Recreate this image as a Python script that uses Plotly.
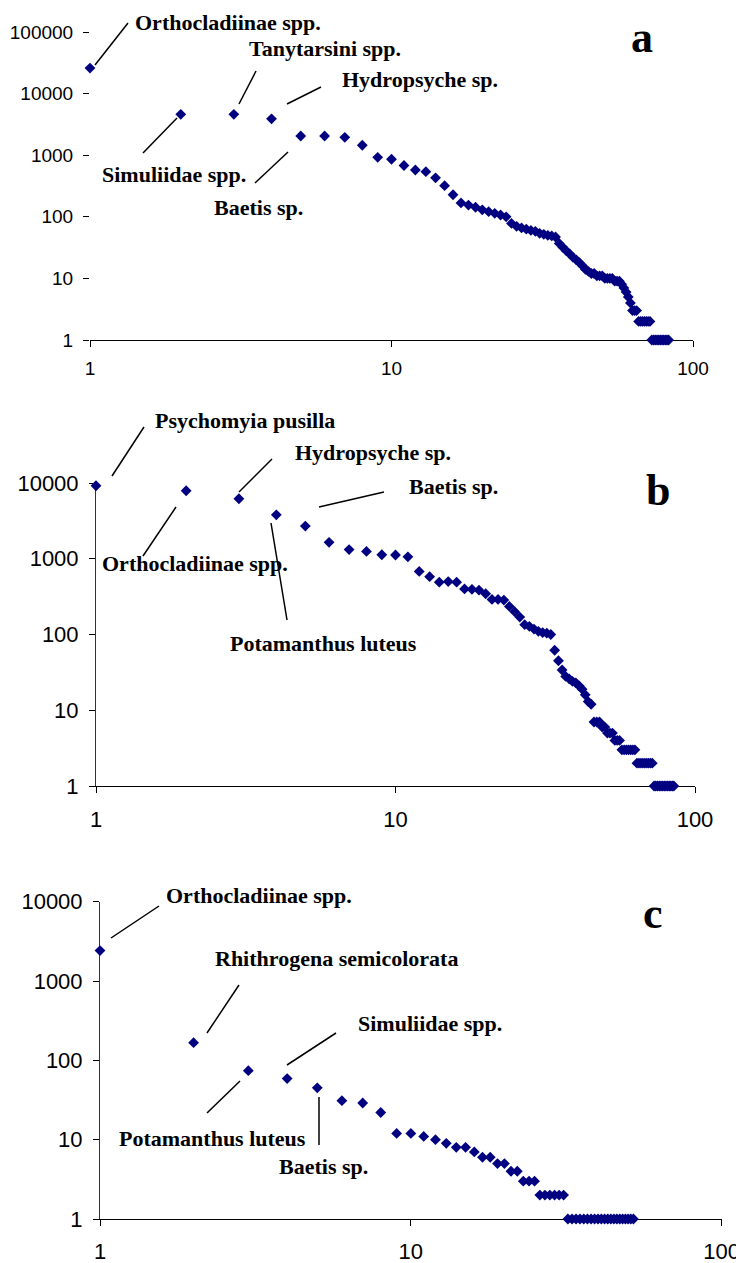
import plotly.graph_objects as go

# ---------------- data ----------------
# Panel a: abundance by rank
a_values = [26000, 4600, 4600, 3900, 2050, 2050, 1950, 1450, 925, 860,
            680, 575, 540, 430, 320, 228, 168, 155, 143, 130,
            121, 114, 107, 100, 78, 70, 66, 63, 60, 58,
            54, 52, 50, 49, 47, 37, 32, 28, 25, 22,
            20, 18, 16, 14, 13, 12, 12, 11, 11, 11,
            10, 10, 10, 10, 9, 9, 9, 8, 7, 6,
            5, 4, 3, 3, 3, 2, 2, 2, 2, 2,
            2, 2, 1, 1, 1, 1, 1, 1, 1, 1,
            1, 1, 1]
a_ranks = list(range(1, len(a_values) + 1))

# Panel b
b_values = [9200, 7900, 6200, 3800, 2700, 1650, 1320, 1250, 1130, 1120,
            1060, 680, 580, 490, 500, 490, 400, 395, 385, 345,
            290, 290, 285, 235, 200, 170, 135, 128, 118, 110,
            106, 104, 100, 62, 45, 34, 28, 26, 24, 23,
            21, 19, 16, 13, 12, 7, 7, 7, 6, 6,
            5, 5, 5, 4, 4, 4, 3, 3, 3, 3,
            3, 3, 3, 2, 2, 2, 2, 2, 2, 2,
            2, 2, 1, 1, 1, 1, 1, 1, 1, 1,
            1, 1, 1, 1, 1]
b_ranks = list(range(1, len(b_values) + 1))

# Panel c
c_values = [2420, 167, 74, 59, 45, 31, 29, 22, 12, 12,
            11, 10, 9, 8, 8, 7, 6, 6, 5, 5,
            4, 4, 3, 3, 3, 2, 2, 2, 2, 2,
            2, 1, 1, 1, 1, 1, 1, 1, 1, 1,
            1, 1, 1, 1, 1, 1, 1, 1, 1, 1,
            1, 1]
c_ranks = list(range(1, len(c_values) + 1))

x_tickvals = [1, 10, 100]
x_ticktext = ["1", "10", "100"]
a_y_tickvals = [1, 10, 100, 1000, 10000, 100000]
a_y_ticktext = ["1", "10", "100", "1000", "10000", "100000"]
bc_y_tickvals = [1, 10, 100, 1000, 10000]
bc_y_ticktext = ["1", "10", "100", "1000", "10000"]

panel_letters = ["a", "b", "c"]

a_labels = ["Orthocladiinae spp.", "Tanytarsini spp.", "Hydropsyche sp.",
            "Simuliidae spp.", "Baetis sp."]
b_labels = ["Psychomyia pusilla", "Hydropsyche sp.", "Baetis sp.",
            "Orthocladiinae spp.", "Potamanthus luteus"]
c_labels = ["Orthocladiinae spp.", "Rhithrogena semicolorata", "Simuliidae spp.",
            "Potamanthus luteus", "Baetis sp."]

# ---------------- layout helpers ----------------
W, H = 744, 1263
OFF = 8  # page body margin


def px(x):
    return (x - OFF) / W


def py(y):
    return 1 - (y - OFF) / H


MARK = "#000080"
fig = go.Figure()

for ranks, vals, xa, ya in [(a_ranks, a_values, "x", "y"),
                            (b_ranks, b_values, "x2", "y2"),
                            (c_ranks, c_values, "x3", "y3")]:
    fig.add_trace(go.Scatter(x=ranks, y=vals, mode="markers", xaxis=xa, yaxis=ya,
                             marker=dict(symbol="diamond", size=8.3, color=MARK,
                                         line=dict(width=0)),
                             cliponaxis=False, hoverinfo="x+y"))

tick_font_a = dict(family="Liberation Sans, Arial", size=19, color="black")
tick_font_bc = dict(family="Liberation Sans, Arial", size=22, color="black")


def xaxis(domain, anchor, font, standoff):
    return dict(type="log", range=[0, 2], domain=domain, anchor=anchor,
                tickvals=x_tickvals, ticktext=x_ticktext, ticks="outside",
                ticklen=6, tickcolor="black", tickwidth=1, showline=True,
                linecolor="black", linewidth=1, showgrid=False, zeroline=False,
                tickfont=font, layer="below traces", ticklabelstandoff=standoff,
                automargin=False, fixedrange=True)


def yaxis(domain, anchor, rng, tv, tt, font, showline, standoff):
    return dict(type="log", range=rng, domain=domain, anchor=anchor,
                tickvals=tv, ticktext=tt, ticks="outside", ticklen=6,
                tickcolor="black", tickwidth=1, showline=showline,
                linecolor="#333333", linewidth=1, showgrid=False, zeroline=False,
                tickfont=font, layer="below traces", ticklabelstandoff=standoff,
                automargin=False, fixedrange=True)


layout = dict(
    width=W, height=H, autosize=False, margin=dict(l=0, r=0, t=0, b=0, pad=0),
    paper_bgcolor="white", plot_bgcolor="white", showlegend=False,
    xaxis=xaxis([px(90), px(693)], "y", tick_font_a, 5),
    yaxis=yaxis([py(340), py(32)], "x", [0, 5], a_y_tickvals, a_y_ticktext,
                tick_font_a, False, 6),
    xaxis2=xaxis([px(96), px(695)], "y2", tick_font_bc, 8),
    yaxis2=yaxis([py(786), py(483)], "x2", [0, 4], bc_y_tickvals, bc_y_ticktext,
                 tick_font_bc, True, 6),
    xaxis3=xaxis([px(100), px(721.7)], "y3", tick_font_bc, 7),
    yaxis3=yaxis([py(1219), py(901.7)], "x3", [0, 4], bc_y_tickvals, bc_y_ticktext,
                 tick_font_bc, True, 6),
)
fig.update_layout(**layout)

label_font = dict(family="Liberation Serif, Times New Roman", size=22, color="black")
letter_font = dict(family="Liberation Serif, Times New Roman", size=44, color="black")

# label positions (pixel): left x, center y
a_pos = [(133, 22), (247, 49), (340, 80), (100, 175), (212, 208)]
b_pos = [(153, 420), (293, 452), (407, 486), (100, 563), (228, 643)]
c_pos = [(164, 895), (213, 958), (356, 1023), (117, 1138), (277, 1166)]

annotations = []
for labels, pos in [(a_labels, a_pos), (b_labels, b_pos), (c_labels, c_pos)]:
    for t, (x, y) in zip(labels, pos):
        annotations.append(dict(text="<b>%s</b>" % t, x=px(x), y=py(y),
                                xref="paper", yref="paper",
                                xanchor="left", yanchor="middle", showarrow=False,
                                font=label_font))

for letter, (x, y) in zip(panel_letters, [(642, 38), (658, 490), (653, 913)]):
    annotations.append(dict(text="<b>%s</b>" % letter, x=px(x), y=py(y), xref="paper",
                            yref="paper", xanchor="center", yanchor="middle",
                            showarrow=False, font=letter_font))

fig.update_layout(annotations=annotations)

leaders = [
    (95, 65, 128, 23), (239, 104, 256, 71), (287, 104, 321, 87),
    (177, 118, 143, 153), (288, 152, 255, 183),
    (112, 476, 144, 427), (239, 492, 272, 459), (319, 507, 384, 492),
    (176, 507, 143, 556), (271, 523, 287, 620),
    (111, 938, 159, 906), (207, 1033, 239, 985), (287, 1065, 336, 1033),
    (240, 1081, 207, 1113), (319, 1097, 319, 1145),
]
shapes = []
for x0, y0, x1, y1 in leaders:
    shapes.append(dict(type="line", xref="paper", yref="paper",
                       x0=px(x0), y0=py(y0), x1=px(x1), y1=py(y1),
                       line=dict(color="black", width=1.5)))
fig.update_layout(shapes=shapes)

fig.write_html("out.html", config={"responsive": False})
